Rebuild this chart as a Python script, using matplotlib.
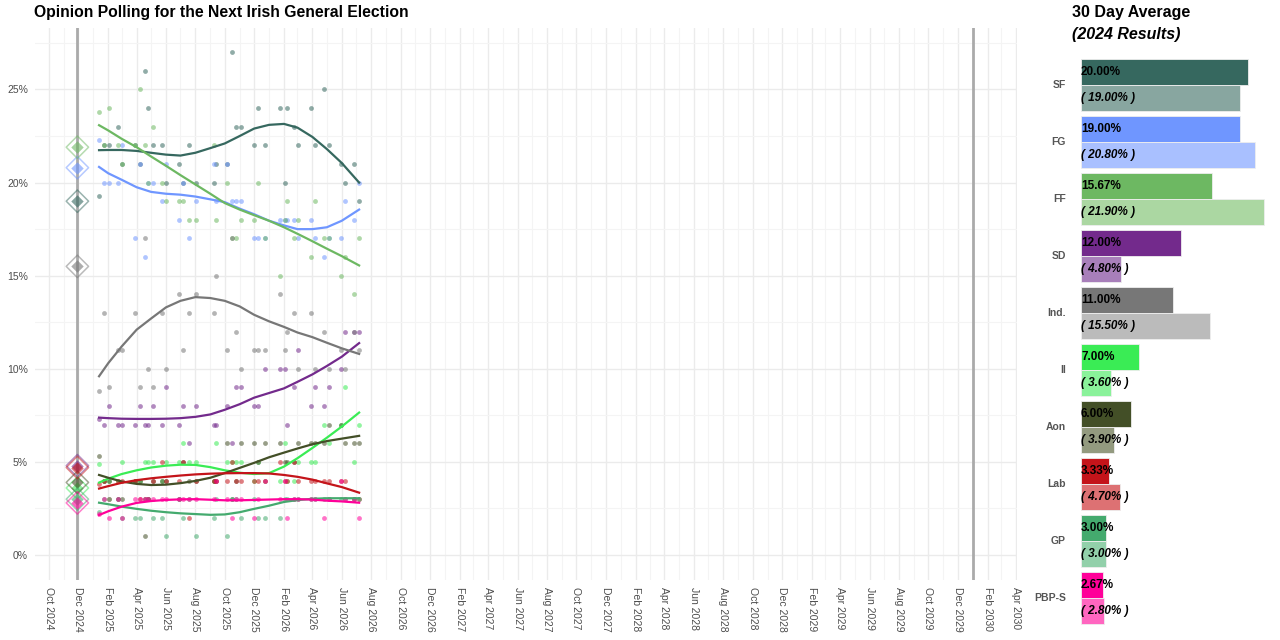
import matplotlib
matplotlib.use("Agg")
import matplotlib.pyplot as plt
import matplotlib.dates as mdates
import numpy as np
import pandas as pd

plt.rcParams['font.family'] = ['Liberation Sans', 'DejaVu Sans']

# Parties, colours and bar panel values
parties = ['SF', 'FG', 'FF', 'SD', 'Ind.', 'II', 'Aon', 'Lab', 'GP', 'PBP-S']
poll_colours = ['#36685F', '#6F96FF', '#6DB862', '#732A8C', '#777777',
                '#3AEC55', '#434F27', '#C4141A', '#44AA6E', '#FF0099']
result_colours = ['#88A6A0', '#A9C0FF', '#ABD7A2', '#A87FBA', '#BBBBBB',
                  '#8AF29A', '#939A7F', '#DD7173', '#92D0AA', '#FF66C0']
avg_30day = [20.00, 19.00, 15.67, 12.00, 11.00, 7.00, 6.00, 3.33, 3.00, 2.67]
results_2024 = [19.00, 20.80, 21.90, 4.80, 15.50, 3.60, 3.90, 4.70, 3.00, 2.80]

election_dates = ['2024-11-29', '2030-01-01']

# Individual polls
poll_dates = ['2025-01-13', '2025-01-24', '2025-02-03', '2025-02-22', '2025-03-02',
              '2025-03-29', '2025-04-07', '2025-04-19', '2025-04-25', '2025-05-04',
              '2025-05-24', '2025-06-02', '2025-06-27', '2025-07-07', '2025-07-18',
              '2025-08-03', '2025-09-08', '2025-09-12', '2025-10-05', '2025-10-17',
              '2025-10-24', '2025-11-03', '2025-11-30', '2025-12-08', '2025-12-23',
              '2026-01-23', '2026-02-03', '2026-02-07', '2026-02-22', '2026-03-02',
              '2026-03-29', '2026-04-06', '2026-04-25', '2026-05-05', '2026-05-30',
              '2026-06-08', '2026-06-27', '2026-07-07']
sf = [19.3, 22, 22, 23, 21, 22, 21, 26, 24, 22, 22, 20, 21, 20, 22, 20, 20, 21, 21,
      27, 23, 23, 22, 24, 22, 24, 20, 24, 23, 22, 24, 22, 25, 22, 21, 20, 21, 19]
fg = [22.3, 20, 20, 20, 22, 17, 21, 16, 20, 20, 19, 21, 18, 20, 17, 19, 21, 19, 21,
      19, 19, 19, 17, 17, 17, 18, 18, 18, 18, 17, 18, 17, 16, 17, 17, 19, 18, 20]
ff = [23.8, 22, 24, 22, 21, 22, 25, 22, 20, 23, 20, 19, 19, 19, 18, 18, 22, 18, 20,
      17, 17, 18, 18, 20, 17, 15, 18, 19, 17, 18, 16, 19, 17, 17, 15, 16, 14, 17]
sd = [7.3, 7, 8, 7, 7, 7, 8, 7, 7, 8, 7, 9, 7, 8, 6, 8, 7, 7, 8,
      6, 9, 9, 8, 8, 10, 10, 10, 7, 9, 11, 8, 9, 8, 9, 10, 12, 12, 12]
ind = [8.8, 13, 9, 11, 11, 13, 9, 17, 10, 9, 13, 10, 14, 11, 13, 14, 13, 15, 11,
       17, 12, 10, 11, 11, 11, 14, 11, 12, 13, 10, 13, 10, 12, 10, 11, 10, 12, 11]
ii = [4.9, 4, 4, 4, 5, 4, 4, 5, 5, 5, 4, 5, 5, 6, 5, 5, 4, 6, 5,
      5, 5, 5, 4, 5, 4, 4, 6, 4, 4, 5, 5, 5, 7, 6, 7, 9, 5, 7]
aon = [5.3, 4, 4, 3, 3, 4, 4, 1, 3, 4, 4, 4, 3, 5, 4, 4, 4, 4, 6,
       3, 4, 6, 6, 5, 6, 6, 5, 5, 5, 6, 6, 6, 6, 7, 7, 6, 6, 6]
lab = [3.8, 4, 3, 4, 4, 4, 3, 3, 3, 4, 5, 4, 4, 5, 2, 4, 4, 4, 4,
       5, 4, 4, 4, 4, 4, 5, 4, 4, 5, 4, 4, 4, 4, 4, 4, 4, 3, 3]
gp = [2.3, 3, 3, 3, 2, 2, 2, 3, 3, 2, 2, 1, 3, 2, 3, 1, 2, 3, 1,
      3, 3, 2, 3, 2, 2, 2, 3, 3, 3, 3, 3, 3, 3, 3, 3, 3, 3, 3]
pbp = [2.2, 3, 2, 3, 2, 3, 3, 3, 3, 3, 3, 3, 3, 3, 3, 3, 3, 4, 3,
       2, 3, 3, 2, 3, 4, 3, 4, 2, 3, 3, 3, 3, 2, 3, 4, 3, 3, 2]

# Smoothed trend at monthly dates
trend_dates = ['2025-01-13', '2025-02-01', '2025-03-01', '2025-04-01', '2025-05-01',
               '2025-06-01', '2025-07-01', '2025-08-01', '2025-09-01', '2025-10-01',
               '2025-11-01', '2025-12-01', '2026-01-01', '2026-02-01', '2026-03-01',
               '2026-04-01', '2026-05-01', '2026-06-01', '2026-07-07']
sf_trend = [21.74, 21.75, 21.75, 21.7, 21.6, 21.5, 21.45, 21.6, 21.85, 22.1,
            22.5, 22.9, 23.1, 23.15, 22.95, 22.45, 21.8, 21.05, 20.0]
fg_trend = [20.84, 20.5, 20.15, 19.75, 19.5, 19.4, 19.35, 19.25, 19.1, 18.95,
            18.6, 18.3, 17.95, 17.7, 17.5, 17.5, 17.6, 17.95, 18.55]
ff_trend = [23.08, 22.8, 22.35, 21.9, 21.4, 20.9, 20.4, 19.9, 19.4, 18.9,
            18.55, 18.25, 17.95, 17.6, 17.25, 16.85, 16.45, 16.05, 15.55]
sd_trend = [7.38, 7.35, 7.32, 7.31, 7.31, 7.32, 7.35, 7.42, 7.55, 7.8,
            8.1, 8.45, 8.7, 8.95, 9.3, 9.7, 10.15, 10.65, 11.38]
ind_trend = [9.6, 10.3, 11.2, 12.1, 12.7, 13.3, 13.65, 13.85, 13.8, 13.65,
             13.35, 12.9, 12.55, 12.25, 11.95, 11.7, 11.4, 11.1, 10.8]
ii_trend = [3.89, 4.1, 4.35, 4.55, 4.7, 4.8, 4.85, 4.84, 4.72, 4.55,
            4.42, 4.35, 4.4, 4.75, 5.2, 5.75, 6.3, 6.9, 7.65]
aon_trend = [4.3, 4.15, 3.95, 3.82, 3.76, 3.78, 3.86, 3.98, 4.15, 4.4,
             4.68, 4.95, 5.25, 5.5, 5.72, 5.95, 6.12, 6.25, 6.4]
lab_trend = [3.57, 3.7, 3.88, 4.02, 4.12, 4.2, 4.27, 4.33, 4.37, 4.39,
             4.4, 4.4, 4.38, 4.3, 4.2, 4.05, 3.85, 3.65, 3.35]
gp_trend = [2.81, 2.73, 2.6, 2.48, 2.38, 2.3, 2.24, 2.2, 2.16, 2.18,
            2.3, 2.48, 2.65, 2.85, 2.95, 3.02, 3.05, 3.05, 3.05]
pbp_trend = [2.15, 2.35, 2.6, 2.8, 2.9, 2.96, 2.99, 3.0, 2.97, 2.94,
             2.94, 2.96, 2.98, 3.0, 3.0, 2.98, 2.92, 2.88, 2.81]

poll_series = [sf, fg, ff, sd, ind, ii, aon, lab, gp, pbp]
trend_series = [sf_trend, fg_trend, ff_trend, sd_trend, ind_trend,
                ii_trend, aon_trend, lab_trend, gp_trend, pbp_trend]

W, H = 1280, 640
fig = plt.figure(figsize=(W / 100, H / 100), dpi=100)

# ---- Left: polling time series ----
ax = fig.add_axes([35 / W, 1 - 580 / H, (1017 - 35) / W, (580 - 28) / H])
pdates = pd.to_datetime(poll_dates)
tdates = pd.to_datetime(trend_dates)
edates = pd.to_datetime(election_dates)

for d in edates:
    ax.axvline(d, color='#AAAAAA', lw=2, zorder=1)

for vals, col in zip(poll_series, poll_colours):
    ax.scatter(pdates, vals, s=12, color=col, alpha=0.55, linewidths=0, zorder=2)

for vals, col in zip(trend_series, poll_colours):
    ax.plot(tdates, vals, color=col, lw=1.6, zorder=3)

# 2024 results as diamonds on election day
for res, col in zip(results_2024, poll_colours):
    ax.scatter([edates[0]], [res], marker='D', s=40, color=col, alpha=0.6,
               linewidths=0, zorder=4)
    ax.scatter([edates[0]], [res], marker='D', s=130, facecolors='none',
               edgecolors=col, alpha=0.5, linewidths=1.1, zorder=4)

ax.set_xlim(pd.Timestamp('2024-09-02'), pd.Timestamp('2030-04-03'))
ax.set_ylim(-1.34, 28.3)
ax.xaxis.set_major_locator(mdates.MonthLocator(bymonth=[2, 4, 6, 8, 10, 12]))
ax.xaxis.set_major_formatter(mdates.DateFormatter('%b %Y'))
ax.xaxis.set_minor_locator(mdates.MonthLocator())
ax.set_yticks(np.arange(0, 30, 5))
ax.set_yticks(np.arange(2.5, 28, 5), minor=True)
ax.set_yticklabels([f'{int(v)}%' for v in np.arange(0, 30, 5)])
ax.grid(True, which='major', color='#EBEBEB', lw=1.0, zorder=0)
ax.grid(True, which='minor', color='#F4F4F4', lw=0.8, zorder=0)
ax.set_axisbelow(True)
for s in ax.spines.values():
    s.set_visible(False)
ax.tick_params(axis='both', which='both', length=0)
ax.tick_params(axis='y', labelsize=7.5, labelcolor='#4D4D4D', pad=5)
ax.tick_params(axis='x', labelsize=7.5, labelcolor='#4D4D4D', pad=5)
for lbl in ax.get_xticklabels():
    lbl.set_rotation(270)
    lbl.set_ha('center')
    lbl.set_va('top')

fig.text(34 / W, 1 - 12 / H, 'Opinion Polling for the Next Irish General Election',
         fontsize=11.3, fontweight='bold', ha='left', va='center')

# ---- Right: 30 day average vs 2024 results ----
bx = fig.add_axes([1081 / W, 1 - 628 / H, 194 / W, (628 - 55) / H])
scale = 8.35  # px per percentage point
bx.set_xlim(0, 194 / scale)
bx.set_ylim(628 - 85, 55 - 85)
centres = np.arange(len(parties)) * 57
bx.barh(centres - 13, avg_30day, height=26, color=poll_colours,
        edgecolor='#EEEEEE', linewidth=0.6)
bx.barh(centres + 13, results_2024, height=26, color=result_colours,
        edgecolor='#EEEEEE', linewidth=0.6)
for c, a, r, p in zip(centres, avg_30day, results_2024, parties):
    bx.text(0, c - 13, f'{a:.2f}%', ha='left', va='center', fontsize=8.5,
            fontweight='bold', color='black')
    bx.text(0, c + 13, f'( {r:.2f}% )', ha='left', va='center', fontsize=8.5,
            fontweight='bold', fontstyle='italic', color='black')
    bx.text(-15 / scale, c, p, ha='right', va='center', fontsize=7.5,
            fontweight='bold', color='#555555')
bx.axis('off')

fig.text(1072 / W, 1 - 12 / H, '30 Day Average', fontsize=11.5,
         fontweight='bold', ha='left', va='center')
fig.text(1072 / W, 1 - 35 / H, '(2024 Results)', fontsize=11.5,
         fontweight='bold', fontstyle='italic', ha='left', va='center')

fig.savefig('out.png', dpi=100)
